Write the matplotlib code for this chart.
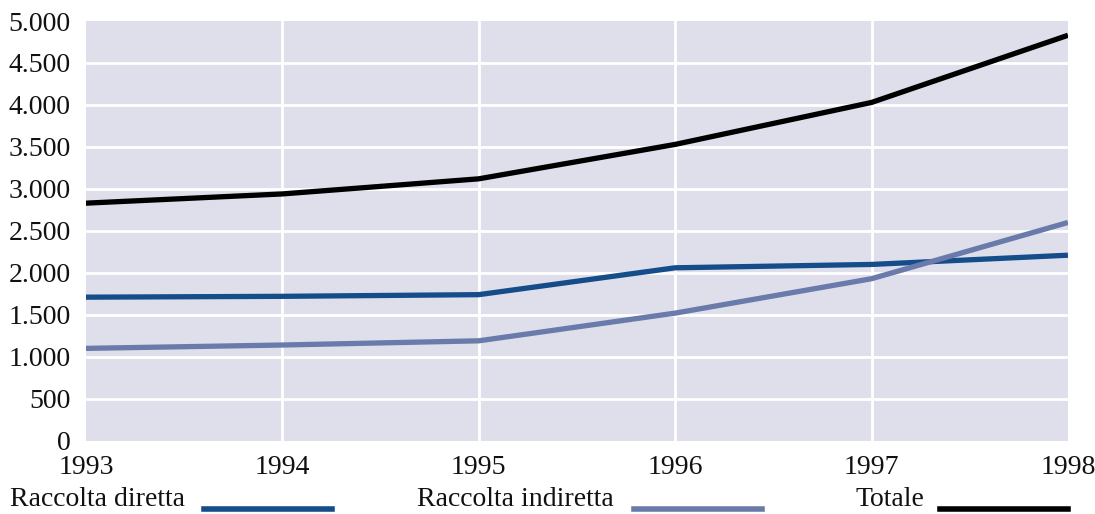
import matplotlib.pyplot as plt
from matplotlib.lines import Line2D
from matplotlib.ticker import FuncFormatter

plt.rcParams['font.family'] = ['Liberation Serif', 'DejaVu Serif']

anni = [1993, 1994, 1995, 1996, 1997, 1998]
raccolta_diretta = [1710, 1720, 1740, 2060, 2100, 2210]
raccolta_indiretta = [1100, 1140, 1190, 1520, 1930, 2600]
totale = [2830, 2940, 3120, 3530, 4030, 4830]

nomi = ["Raccolta diretta", "Raccolta indiretta", "Totale"]
colori = ["#154c8a", "#6a7aaa", "#000000"]

fig = plt.figure(figsize=(10.95, 5.14), dpi=100)
ax = fig.add_axes([0.0785, 0.1426, 0.8968, 0.8165])
ax.set_facecolor("#dfdfeb")

for serie, col in zip([raccolta_diretta, raccolta_indiretta, totale], colori):
    ax.plot(anni, serie, color=col, linewidth=3.8, solid_capstyle='butt', zorder=3)

ax.set_xlim(1993, 1998)
ax.set_ylim(0, 5000)
ax.set_xticks(anni)
ax.set_yticks(range(0, 5001, 500))
ax.yaxis.set_major_formatter(FuncFormatter(lambda v, p: f"{int(v):,}".replace(",", ".")))

# griglia bianca, senza la linea a zero
for v in range(500, 5000, 500):
    ax.axhline(v, color="white", linewidth=2, zorder=1)
for a in anni[1:-1]:
    ax.axvline(a, color="white", linewidth=2, zorder=1)

for s in ax.spines.values():
    s.set_visible(False)
ax.tick_params(length=0, labelsize=20, colors="#111111")
ax.tick_params(axis='y', pad=11)
ax.tick_params(axis='x', pad=10)

# legenda in basso: testo seguito dal segmento
voci = [(0.009, 0.186, 0.303), (0.381, 0.579, 0.696), (0.781, 0.858, 0.975)]
for nome, col, (xt, x0, x1) in zip(nomi, colori, voci):
    fig.text(xt, 0.016, nome, fontsize=20, va='baseline', color="#111111")
    fig.add_artist(Line2D([x0, x1], [0.01, 0.01], color=col, linewidth=4,
                          transform=fig.transFigure))

plt.savefig('out.png', dpi=100)
